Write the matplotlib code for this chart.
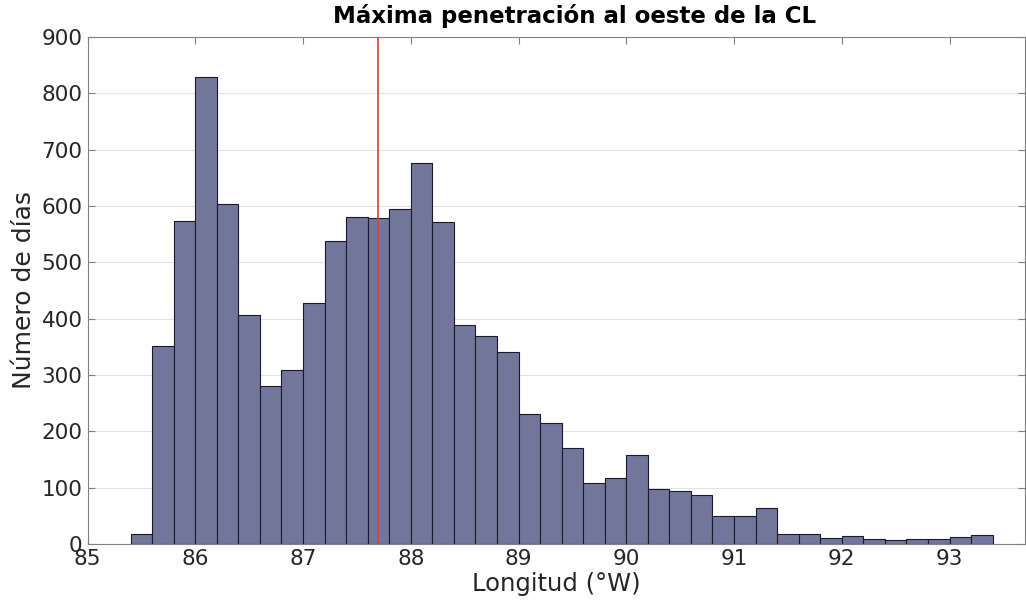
import numpy as np
import matplotlib
matplotlib.use("Agg")
import matplotlib.pyplot as plt

# bordes de los bins (ancho 0.2) y conteos
bin_left = [85.4, 85.6, 85.8, 86.0, 86.2, 86.4, 86.6, 86.8, 87.0, 87.2,
            87.4, 87.6, 87.8, 88.0, 88.2, 88.4, 88.6, 88.8, 89.0, 89.2,
            89.4, 89.6, 89.8, 90.0, 90.2, 90.4, 90.6, 90.8, 91.0, 91.2,
            91.4, 91.6, 91.8, 92.0, 92.2, 92.4, 92.6, 92.8, 93.0, 93.2]
counts = [18, 351, 574, 829, 604, 407, 281, 309, 427, 538,
          581, 579, 594, 676, 571, 389, 370, 341, 231, 214,
          170, 108, 117, 158, 97, 94, 87, 50, 50, 64,
          18, 18, 11, 14, 8, 6, 8, 8, 12, 16]
bin_width = 0.2
cl_lon = 87.7

x_ticks = [85, 86, 87, 88, 89, 90, 91, 92, 93]
y_ticks = [0, 100, 200, 300, 400, 500, 600, 700, 800, 900]

fig = plt.figure(figsize=(10.26, 6.07), dpi=100)
ax = fig.add_axes([0.0853, 0.104, 0.9137, 0.835])

ax.bar(bin_left, counts, width=bin_width, align="edge",
       color="#73769b", edgecolor="#1a1a2e", linewidth=0.8, zorder=2)
ax.axvline(cl_lon, color="#e8393a", linewidth=1.2, zorder=3)

ax.set_xlim(85, 93.7)
ax.set_ylim(0, 900)
ax.set_xticks(x_ticks)
ax.set_yticks(y_ticks)
ax.grid(axis="y", color="#e3e3e3", linewidth=0.8, zorder=0)
ax.set_axisbelow(True)

for s in ax.spines.values():
    s.set_color("#808080")
    s.set_linewidth(0.8)
ax.tick_params(direction="in", top=True, right=True, length=5,
               color="#808080", labelsize=15.5, labelcolor="#262626")

ax.set_xlabel("Longitud (°W)", fontsize=17.5, color="#262626", labelpad=2)
ax.set_ylabel("Número de días", fontsize=18, color="#262626", labelpad=4)
# el titulo original esta algo desplazado a la derecha
ax.set_title("Máxima penetración al oeste de la CL", fontsize=16.5,
             fontweight="bold", pad=10, x=0.52)

fig.savefig("out.png", dpi=100)
